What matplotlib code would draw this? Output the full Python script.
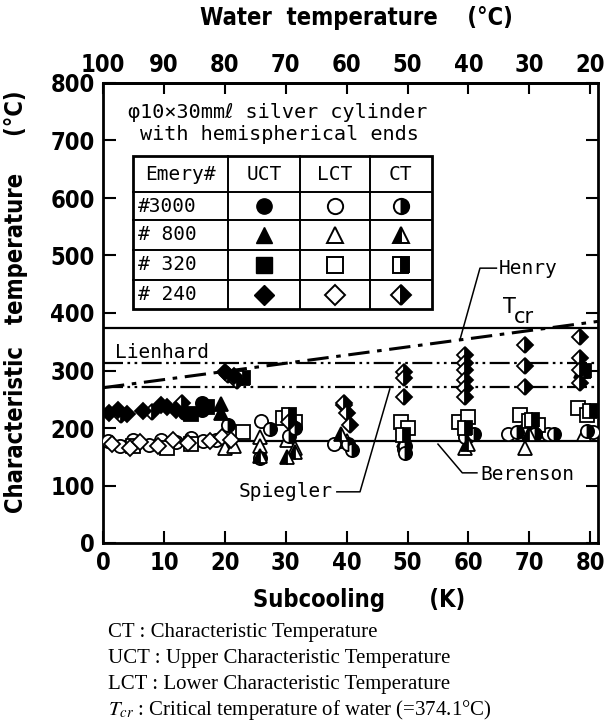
import matplotlib
matplotlib.use("Agg")
import matplotlib.pyplot as plt
from matplotlib.patches import Rectangle
from matplotlib import font_manager as fm

plt.rcParams['mathtext.fontset'] = 'stix'

# ---------------- data ----------------
# #240 (diamond)
uct_240_x = [1.0, 2.5, 4.0, 6.5, 9.5, 10.5, 12.0, 20.0, 21.5]
uct_240_y = [226, 232, 225, 230, 240, 236, 232, 297, 290]
lct_240_x = [1.5, 4.5, 6.0, 9.0, 11.5, 14.0, 17.5, 19.5, 21.0, 39.5]
lct_240_y = [172, 165, 176, 168, 180, 174, 178, 185, 180, 240]
ct_240_x = [3.0, 8.0, 13.0, 20.5, 22.0, 30.5, 39.5, 40.0, 40.5, 49.5, 49.5, 49.5,
            59.4, 59.4, 59.4, 59.4, 59.4, 59.4, 69.3, 69.3, 69.3, 78.3, 78.3, 78.3, 78.3]
ct_240_y = [222, 228, 244, 292, 282, 210, 243, 226, 205, 297, 287, 254,
            327, 313, 301, 283, 270, 254, 345, 308, 272, 358, 322, 301, 278]
# #320 (square)
uct_320_x = [14.5, 17.0]
uct_320_y = [225, 236]
lct_320_x = [5.0, 10.5, 14.5, 23.0, 29.5, 31.5, 49.0, 50.0, 58.5, 60.0, 68.5, 70.0, 71.5, 78.0, 79.5]
lct_320_y = [168, 166, 172, 193, 218, 210, 210, 200, 210, 220, 222, 212, 205, 235, 222]
ct_320_x = [23.0, 30.5, 49.3, 59.4, 70.5, 79.0, 80.0]
ct_320_y = [287, 222, 188, 200, 214, 300, 230]
# #3000 (circle)
uct_3000_x = [16.3, 16.3, 13.5]
uct_3000_y = [243, 232, 226]
lct_3000_x = [0.8, 2.8, 5.0, 7.5, 9.5, 12.0, 14.5, 16.5, 18.5, 26.0, 38.0, 49.5,
              60.0, 66.5, 69.0, 73.0, 80.5]
lct_3000_y = [178, 168, 180, 170, 180, 176, 182, 178, 180, 212, 172, 164,
              186, 190, 194, 190, 193]
ct_3000_x = [25.8, 27.4, 31.5, 30.5, 40.9, 40.2, 49.6, 49.6, 59.4, 61.0, 68.0, 71.0, 74.0, 79.5, 20.5]
ct_3000_y = [147, 198, 200, 186, 162, 172, 168, 157, 184, 190, 193, 190, 190, 195, 205]
# #800 (triangle)
uct_800_x = [19.3, 19.3]
uct_800_y = [241, 226]
lct_800_x = [20.0, 21.5, 25.8, 25.8, 30.2, 31.5, 49.5, 59.4, 69.3, 79.0, 40.0]
lct_800_y = [166, 168, 184, 168, 180, 166, 180, 166, 166, 190, 178]
ct_800_x = [25.8, 30.2, 31.5, 39.0, 60.0, 70.0, 78.5]
ct_800_y = [152, 150, 158, 190, 172, 190, 300]

# correlation lines
T_cr = 374.1
lienhard = 313
spiegler = 272
berenson = 178
henry_a, henry_b = 270, 1.42

emery_labels = ['#3000', '# 800', '# 320', '# 240']
col_labels = ['Emery#', 'UCT', 'LCT', 'CT']
markers = ['o', '^', 's', 'D']
ct_fill = ['right', 'left', 'right', 'right']

x_ticks = [0, 10, 20, 30, 40, 50, 60, 70, 80]
y_ticks = [0, 100, 200, 300, 400, 500, 600, 700, 800]
top_ticks = [100, 90, 80, 70, 60, 50, 40, 30, 20]

notes = ['CT : Characteristic Temperature',
         'UCT : Upper Characteristic Temperature',
         'LCT : Lower Characteristic Temperature',
         r'$T_{cr}$ : Critical temperature of water (=374.1°C)']


# ---------------- font choice: a narrow bold sans if one is installed ----------------
def pick_narrow():
    best = None
    for f in fm.fontManager.ttflist:
        nm = f.name.lower()
        narrowish = ('narrow' in nm or 'condensed' in nm or
                     'condensed' in str(f.stretch) or str(f.stretch) in ('600',))
        if not narrowish:
            continue
        if 'mono' in nm or 'serif' in nm and 'sans' not in nm:
            continue
        w = f.weight if isinstance(f.weight, int) else (700 if 'bold' in str(f.weight) else 400)
        score = abs(w - 700)
        if f.style != 'normal':
            score += 1000
        if best is None or score < best[0]:
            best = (score, f.fname)
    return best[1] if best else None


narrow_file = pick_narrow()
if narrow_file:
    def NP(size):
        return fm.FontProperties(fname=narrow_file, size=size)
    big = 17
else:
    def NP(size):
        return fm.FontProperties(family=['Liberation Sans', 'DejaVu Sans'], weight='bold', size=size)
    big = 15

MONO = ['DejaVu Sans Mono', 'DejaVu Sans']

# ---------------- figure ----------------
fig = plt.figure(figsize=(6.08, 7.24), dpi=100)
ax = fig.add_axes([103/608, 1-543/724, 495/608, 460/724])
xmax = 495/6.09
ax.set_xlim(0, xmax)
ax.set_ylim(0, 800)

for s in ax.spines.values():
    s.set_linewidth(2)

ax.set_xticks(x_ticks)
ax.set_yticks(y_ticks)
ax.tick_params(direction='in', length=9, width=1.5, top=False, right=True, pad=6)
for lab in ax.get_xticklabels() + ax.get_yticklabels():
    lab.set_fontproperties(NP(big))

sec = ax.secondary_xaxis('top', functions=(lambda x: 100 - x, lambda t: 100 - t))
sec.set_xticks(top_ticks)
sec.tick_params(direction='in', length=8, width=1.5, pad=4)
sec.spines['top'].set_linewidth(2)
for lab in sec.get_xticklabels():
    lab.set_fontproperties(NP(big))

# lines
ax.axhline(T_cr, color='black', lw=1.6, zorder=2)
ax.axhline(berenson, color='black', lw=1.6, zorder=2)
ax.axhline(lienhard, color='black', lw=1.6, dashes=(9, 2, 1.2, 2, 1.2, 2), zorder=2)
ax.axhline(spiegler, color='black', lw=1.6, dashes=(9, 2, 1.2, 2, 1.2, 2), zorder=2)
hx = [0, xmax]
ax.plot(hx, [henry_a + henry_b * v for v in hx], color='black', lw=2.2,
        dashes=(7, 2.5, 1.5, 2.5), zorder=2)

# data points
ms = 9.5
mew = 1.3
for x, y, i in [(lct_3000_x, lct_3000_y, 0), (lct_800_x, lct_800_y, 1),
                (lct_320_x, lct_320_y, 2), (lct_240_x, lct_240_y, 3)]:
    ax.plot(x, y, ls='none', marker=markers[i], ms=ms if i != 3 else ms - 1,
            mfc='white', mec='black', mew=mew, zorder=3)
for x, y, i in [(ct_3000_x, ct_3000_y, 0), (ct_800_x, ct_800_y, 1),
                (ct_320_x, ct_320_y, 2), (ct_240_x, ct_240_y, 3)]:
    ax.plot(x, y, ls='none', marker=markers[i], ms=ms if i != 3 else ms - 1,
            fillstyle=ct_fill[i], mfc='black', mfcalt='white', mec='black', mew=mew, zorder=4)
for x, y, i in [(uct_3000_x, uct_3000_y, 0), (uct_800_x, uct_800_y, 1),
                (uct_320_x, uct_320_y, 2), (uct_240_x, uct_240_y, 3)]:
    ax.plot(x, y, ls='none', marker=markers[i], ms=ms if i != 3 else ms - 1,
            mfc='black', mec='black', mew=mew, zorder=5)

# labels for lines
lab_kw = dict(family=MONO, fontsize=14, color='black')
ax.text(2.0, 332, 'Lienhard', va='center', ha='left', **lab_kw)
ax.text(65.0, 478, 'Henry', va='center', ha='left', **lab_kw)
ax.plot([64.6, 61.9, 58.6], [478, 478, 353], color='black', lw=1.1)
ax.text(22.3, 89, 'Spiegler', va='center', ha='left', **lab_kw)
ax.plot([38.4, 42.2, 47.1], [89, 89, 268], color='black', lw=1.1)
ax.text(61.9, 120, 'Berenson', va='center', ha='left', **lab_kw)
ax.plot([55.0, 59.0, 61.4], [172, 122, 122], color='black', lw=1.1)
ax.text(65.6, 400, 'T', va='baseline', ha='left', family=['DejaVu Sans'], fontsize=15)
ax.text(67.4, 382, 'cr', va='baseline', ha='left', family=['DejaVu Sans'], fontsize=15)

# title inside
ax.text(4.1, 748, 'φ10×30mmℓ silver cylinder', va='center', ha='left', family=MONO, fontsize=14.5)
ax.text(6.1, 710, 'with hemispherical ends', va='center', ha='left', family=MONO, fontsize=14.5)

# legend table
cx = [4.9, 20.5, 32.3, 43.8, 54.0]
ry = [673, 610, 562, 510, 457, 407]
ax.add_patch(Rectangle((cx[0], ry[-1]), cx[-1] - cx[0], ry[0] - ry[-1], fill=True,
                       fc='white', ec='black', lw=2.0, zorder=6))
for xv in cx[1:-1]:
    ax.plot([xv, xv], [ry[-1], ry[0]], color='black', lw=1.4, zorder=7)
for yv in ry[1:-1]:
    ax.plot([cx[0], cx[-1]], [yv, yv], color='black', lw=1.4, zorder=7)
for j, t in enumerate(col_labels):
    ax.text((cx[j] + cx[j + 1]) / 2, (ry[0] + ry[1]) / 2, t, ha='center', va='center',
            family=MONO, fontsize=14, zorder=8)
for i, lab in enumerate(emery_labels):
    yc = (ry[i + 1] + ry[i + 2]) / 2
    ax.text(cx[0] + 0.9, yc, lab, ha='left', va='center', family=MONO, fontsize=14, zorder=8)
    m = markers[i]
    lms = 11 if m != 'D' else 10
    ax.plot([(cx[1] + cx[2]) / 2], [yc], marker=m, ms=lms, mfc='black', mec='black', zorder=8)
    ax.plot([(cx[2] + cx[3]) / 2], [yc], marker=m, ms=lms, mfc='white', mec='black', mew=1.4, zorder=8)
    ax.plot([(cx[3] + cx[4]) / 2], [yc], marker=m, ms=lms, fillstyle=ct_fill[i], mfc='black',
            mfcalt='white', mec='black', mew=1.4, zorder=8)

# axis titles
fig.text(359/608, 1 - 600/724, 'Subcooling      (K)', ha='center', va='center',
         fontproperties=NP(big))
fig.text(356/608, 1 - 18/724, 'Water  temperature    (°C)', ha='center', va='center',
         fontproperties=NP(big))
fig.text(16/608, 1 - 302/724, 'Characteristic   temperature     (°C)', ha='center', va='center',
         rotation=90, fontproperties=NP(big))

# notes
for k, t in enumerate(notes):
    fig.text(108/608, 1 - (632 + 26 * k)/724, t, ha='left', va='center',
             family=['Liberation Serif', 'DejaVu Serif'], fontsize=15)

fig.savefig('out.png', dpi=100)
